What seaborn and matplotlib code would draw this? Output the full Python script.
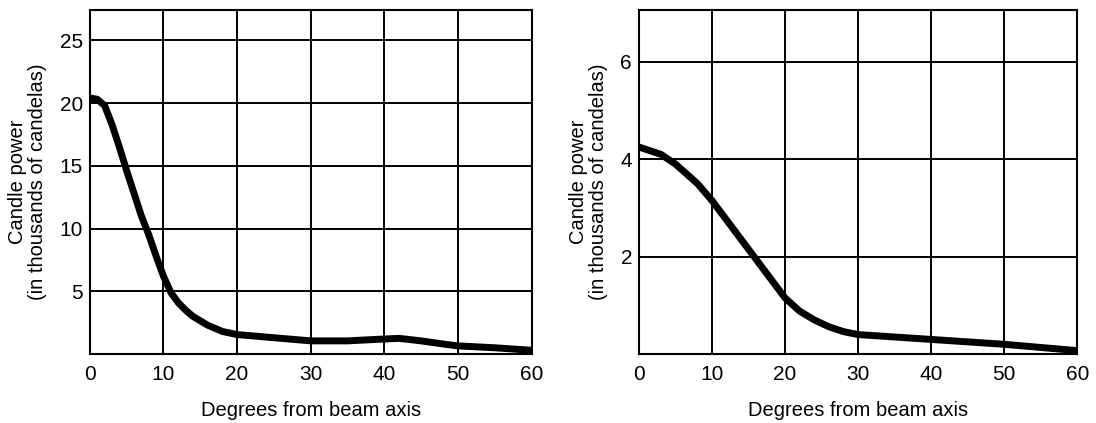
import pandas as pd
import matplotlib
matplotlib.use("Agg")
import matplotlib.pyplot as plt
import seaborn as sns


# left panel: candle power vs angle (thousands of candelas)
left_deg = [0, 1, 2, 3, 4, 5, 6, 7, 8, 9, 10, 11, 12, 13, 14, 16, 18, 20,
            25, 30, 35, 40, 42, 45, 48, 50, 55, 60]
left_cp = [20.4, 20.3, 19.8, 18.3, 16.5, 14.6, 12.8, 11.0, 9.5, 7.8, 6.2,
           4.9, 4.1, 3.5, 3.0, 2.3, 1.8, 1.55, 1.3, 1.05, 1.05, 1.2, 1.25,
           1.05, 0.8, 0.65, 0.5, 0.3]

# right panel
right_deg = [0, 3, 5, 8, 10, 12, 15, 18, 20, 22, 24, 26, 28, 30, 40, 50, 60]
right_cp = [4.25, 4.1, 3.9, 3.5, 3.15, 2.75, 2.15, 1.55, 1.15, 0.88, 0.7,
            0.56, 0.46, 0.4, 0.3, 0.2, 0.07]

x_ticks = [0, 10, 20, 30, 40, 50, 60]
left_yticks = [5, 10, 15, 20, 25]
right_yticks = [2, 4, 6]

X_LABEL = "Degrees from beam axis"
Y_LABEL = "Candle power\n(in thousands of candelas)"


def style_axis(ax, yticks, ymax):
    ax.set_xlim(0, 60)
    ax.set_ylim(0, ymax)
    ax.set_xticks(x_ticks)
    ax.set_yticks(yticks)
    ax.grid(True, color="black", linewidth=1.4)
    ax.set_axisbelow(True)
    for s in ax.spines.values():
        s.set_color("black")
        s.set_linewidth(1.5)
    ax.tick_params(length=0, labelsize=15, colors="black")
    ax.tick_params(axis="x", pad=8)
    ax.tick_params(axis="y", pad=5)
    ax.set_xlabel(X_LABEL, fontsize=14.5, labelpad=12, color="black")
    ax.set_ylabel(Y_LABEL, fontsize=14.5, labelpad=9, linespacing=1.05,
                  color="black")


def main():
    sns.set_style("white")
    plt.rcParams["font.family"] = ["Liberation Sans", "DejaVu Sans"]

    fig = plt.figure(figsize=(10.96, 4.23), dpi=100)
    ax1 = fig.add_axes([0.082, 0.163, 0.403, 0.813])
    ax2 = fig.add_axes([0.583, 0.163, 0.400, 0.813])

    left = pd.DataFrame({"deg": left_deg, "cp": left_cp})
    right = pd.DataFrame({"deg": right_deg, "cp": right_cp})

    sns.lineplot(data=left, x="deg", y="cp", ax=ax1,
                 color="black", linewidth=5, solid_capstyle="round")
    sns.lineplot(data=right, x="deg", y="cp", ax=ax2,
                 color="black", linewidth=5, solid_capstyle="round")

    style_axis(ax1, left_yticks, 27.4)
    style_axis(ax2, right_yticks, 7.06)

    fig.savefig("out.png", dpi=100)


if __name__ == "__main__":
    main()
